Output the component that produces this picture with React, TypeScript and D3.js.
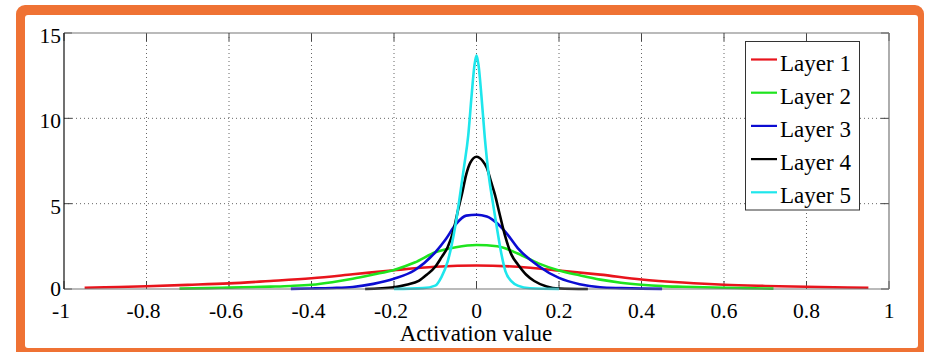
import React from "react";
import * as d3 from "d3";

const layerNames = ["Layer 1", "Layer 2", "Layer 3", "Layer 4", "Layer 5"];
const layerColors = ["#e8141c", "#1ee41e", "#0c0cd2", "#000000", "#1ee6ec"];

const xTicks = [-1, -0.8, -0.6, -0.4, -0.2, 0, 0.2, 0.4, 0.6, 0.8, 1];
const xTickLabels = ["-1", "-0.8", "-0.6", "-0.4", "-0.2", "0", "0.2", "0.4", "0.6", "0.8", "1"];
const yTicks = [0, 5, 10, 15];

const layer1X = [-0.95, -0.9, -0.8, -0.7, -0.6, -0.5, -0.4, -0.3, -0.2, -0.1, 0, 0.1, 0.2, 0.3, 0.4, 0.5, 0.6, 0.7, 0.8, 0.9, 0.95];
const layer1Y = [0.07, 0.1, 0.16, 0.24, 0.33, 0.47, 0.63, 0.86, 1.1, 1.3, 1.38, 1.3, 1.08, 0.84, 0.56, 0.38, 0.25, 0.18, 0.13, 0.09, 0.07];

const layer2X = [-0.72, -0.65, -0.6, -0.5, -0.45, -0.4, -0.35, -0.3, -0.25, -0.2, -0.15, -0.1, -0.05, 0, 0.05, 0.1, 0.15, 0.2, 0.25, 0.3, 0.35, 0.4, 0.45, 0.5, 0.6, 0.65, 0.72];
const layer2Y = [0.02, 0.05, 0.08, 0.14, 0.18, 0.25, 0.4, 0.6, 0.85, 1.12, 1.55, 2.15, 2.45, 2.58, 2.5, 2.08, 1.5, 1.08, 0.8, 0.55, 0.37, 0.25, 0.17, 0.13, 0.07, 0.05, 0.02];

const layer3X = [-0.45, -0.4, -0.35, -0.3, -0.25, -0.2, -0.15, -0.1, -0.075, -0.05, -0.025, 0, 0.025, 0.05, 0.075, 0.1, 0.15, 0.2, 0.25, 0.3, 0.35, 0.4, 0.45];
const layer3Y = [0.01, 0.03, 0.06, 0.12, 0.3, 0.6, 1.1, 2.15, 2.9, 3.8, 4.3, 4.35, 4.25, 3.85, 3.2, 2.4, 1.35, 0.65, 0.28, 0.1, 0.05, 0.02, 0.01];

const layer4X = [-0.27, -0.2, -0.17, -0.14, -0.12, -0.1, -0.085, -0.07, -0.055, -0.045, -0.035, -0.025, -0.015, 0, 0.015, 0.025, 0.035, 0.045, 0.055, 0.07, 0.085, 0.1, 0.12, 0.14, 0.17, 0.2, 0.27];
const layer4Y = [0.0, 0.1, 0.25, 0.48, 0.85, 1.3, 1.85, 2.45, 3.5, 4.6, 5.6, 6.7, 7.4, 7.75, 7.5, 7.1, 6.3, 5.5, 4.5, 3.05, 2.0, 1.45, 0.85, 0.47, 0.15, 0.03, 0.0];

const layer5X = [-0.2, -0.13, -0.1, -0.085, -0.07, -0.06, -0.05, -0.04, -0.03, -0.02, -0.012, -0.005, 0, 0.005, 0.012, 0.02, 0.03, 0.04, 0.05, 0.06, 0.07, 0.085, 0.1, 0.13, 0.2];
const layer5Y = [0, 0.05, 0.2, 0.7, 1.6, 2.6, 3.9, 5.5, 7.2, 9.0, 11.3, 13.1, 13.7, 13.1, 11.3, 8.9, 6.6, 5.0, 3.5, 2.1, 1.05, 0.45, 0.2, 0.04, 0];

const layersX = [layer1X, layer2X, layer3X, layer4X, layer5X];
const layersY = [layer1Y, layer2Y, layer3Y, layer4Y, layer5Y];

export default function App() {
  const W = 926, H = 352;
  const left = 64, right = 889, top = 33, bottom = 289;
  const x = d3.scaleLinear().domain([-1, 1]).range([left, right]);
  const y = d3.scaleLinear().domain([0, 15]).range([bottom, top]);
  const line = d3
    .line<[number, number]>()
    .x((d) => x(d[0]))
    .y((d) => y(d[1]))
    .curve(d3.curveMonotoneX);
  const serif = "Liberation Serif, DejaVu Serif, serif";
  const txt = { fontFamily: serif };
  const orange = "#ef7234";
  const tickLen = 8;

  const legX = 745.5, legY = 41.5, legW = 114, legH = 168.5;

  return (
    <svg width={W} height={H} style={{ position: "absolute", left: 0, top: 0, background: "#fff" }}>
      {/* frame */}
      <rect x={16} y={5} width={908} height={360} rx={9} fill={orange} />
      <rect x={25} y={15} width={893} height={333} rx={3} fill="#ffffff" />

      {/* grid */}
      {xTicks.slice(1, -1).map((t) => (
        <line key={"gx" + t} x1={x(t)} x2={x(t)} y1={top} y2={bottom} stroke="#666" strokeWidth={1} strokeDasharray="1 3" />
      ))}
      {yTicks.slice(1, -1).map((t) => (
        <line key={"gy" + t} x1={left} x2={right} y1={y(t)} y2={y(t)} stroke="#666" strokeWidth={1} strokeDasharray="1 3" />
      ))}

      {/* ticks */}
      {xTicks.map((t) => (
        <g key={"tx" + t}>
          <line x1={x(t)} x2={x(t)} y1={bottom} y2={bottom - tickLen} stroke="#444" />
          <line x1={x(t)} x2={x(t)} y1={top} y2={top + tickLen} stroke="#444" />
        </g>
      ))}
      {yTicks.map((t) => (
        <g key={"ty" + t}>
          <line x1={left} x2={left + tickLen} y1={y(t)} y2={y(t)} stroke="#444" />
          <line x1={right} x2={right - tickLen} y1={y(t)} y2={y(t)} stroke="#444" />
        </g>
      ))}

      {/* curves */}
      {layersX.map((xs, i) => {
        const pts: [number, number][] = xs.map((v, j) => [v, layersY[i][j]]);
        return (
          <path key={"l" + i} d={line(pts) || ""} fill="none" stroke={layerColors[i]} strokeWidth={2.6} strokeLinejoin="round" />
        );
      })}

      {/* axes box */}
      <line x1={left} x2={right} y1={top} y2={top} stroke="#777" strokeWidth={1.2} />
      <line x1={right} x2={right} y1={top} y2={bottom} stroke="#777" strokeWidth={1.2} />
      <line x1={left} x2={right} y1={bottom} y2={bottom} stroke="#777" strokeWidth={1.2} />
      <line x1={left} x2={left} y1={top} y2={bottom} stroke="#111" strokeWidth={1.2} />

      {/* tick labels */}
      {xTicks.map((t, i) => (
        <text key={"lx" + t} x={x(t) - (t < 0 ? 3 : 0)} y={318} textAnchor="middle" style={txt} fontSize={21.5} fill="#000">
          {xTickLabels[i]}
        </text>
      ))}
      {yTicks.map((t) => (
        <text key={"ly" + t} x={61} y={y(t) + (t === 0 ? 7 : 10)} textAnchor="end" style={txt} fontSize={21.5} fill="#000">
          {t}
        </text>
      ))}

      <text x={476} y={341} textAnchor="middle" style={txt} fontSize={23} fill="#000">
        Activation value
      </text>

      {/* legend */}
      <rect x={legX} y={legY} width={legW} height={legH} fill="#fff" stroke="#333" strokeWidth={1} />
      {layerNames.map((name, i) => {
        const cy = 59.5 + i * 33.2;
        return (
          <g key={"leg" + i}>
            <line x1={751} x2={777} y1={cy} y2={cy} stroke={layerColors[i]} strokeWidth={2.2} />
            <text x={780} y={cy + 11} style={txt} fontSize={23} fill="#000">
              {name}
            </text>
          </g>
        );
      })}
    </svg>
  );
}
